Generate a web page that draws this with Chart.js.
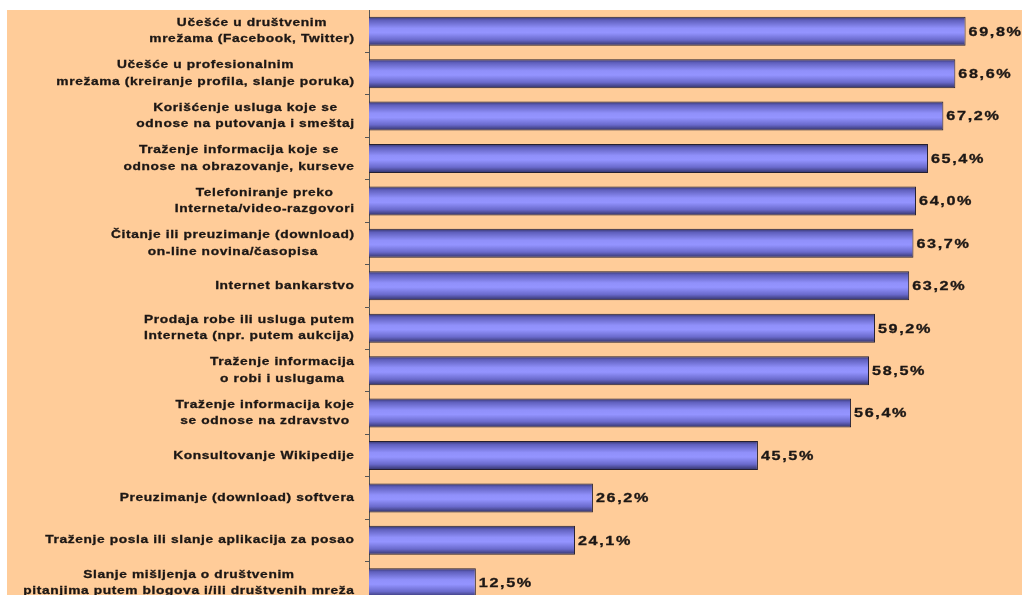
<!DOCTYPE html>
<html>
<head>
<meta charset="utf-8">
<script src="https://cdn.jsdelivr.net/npm/chart.js@4/dist/chart.umd.min.js"></script>
<style>
  html, body { margin: 0; padding: 0; background: #ffffff; overflow: hidden; width: 1022px; height: 595px; }
  #wrap { position: absolute; left: 7px; top: 10px; width: 1015px; height: 594px; background: #ffcc99; }
  canvas { display: block; }
</style>
</head>
<body>
<div id="wrap"><canvas id="c" width="1015" height="594"></canvas></div>
<script>
// Activities (multi-line labels) and share of users, in %
const categories = [
  ["Učešće u društvenim", "mrežama (Facebook, Twitter)"],
  ["Učešće u profesionalnim", "mrežama (kreiranje profila, slanje poruka)"],
  ["Korišćenje usluga koje se", "odnose na putovanja i smeštaj"],
  ["Traženje informacija koje se", "odnose na obrazovanje, kurseve"],
  ["Telefoniranje preko", "Interneta/video-razgovori"],
  ["Čitanje ili preuzimanje (download)", "on-line novina/časopisa"],
  ["Internet bankarstvo"],
  ["Prodaja robe ili usluga putem", "Interneta (npr. putem aukcija)"],
  ["Traženje informacija", "o robi i uslugama"],
  ["Traženje informacija koje", "se odnose na zdravstvo"],
  ["Konsultovanje Wikipedije"],
  ["Preuzimanje (download) softvera"],
  ["Traženje posla ili slanje aplikacija za posao"],
  ["Slanje mišljenja o društvenim", "pitanjima putem blogova i/ili društvenih mreža"]
];
const shares = [69.8, 68.6, 67.2, 65.4, 64.0, 63.7, 63.2, 59.2, 58.5, 56.4, 45.5, 26.2, 24.1, 12.5];

const BAR_FRACTION = 0.684;
const AXIS_WIDTH = 362;
const TEXT_COLOR = '#1c1715';

function barGradient(context) {
  const chart = context.chart;
  const area = chart.chartArea;
  if (!area || context.type !== 'data') return '#8080e8';
  const ys = chart.scales.y;
  const y = ys.getPixelForValue(context.dataIndex);
  const half = (ys.getPixelForValue(1) - ys.getPixelForValue(0)) * BAR_FRACTION / 2;
  const g = chart.ctx.createLinearGradient(0, y - half, 0, y + half);
  g.addColorStop(0.00, '#34346a');
  g.addColorStop(0.12, '#5f5fbc');
  g.addColorStop(0.40, '#9090fa');
  g.addColorStop(0.55, '#9494ff');
  g.addColorStop(0.80, '#6a6acc');
  g.addColorStop(1.00, '#303064');
  return g;
}

// Draw text stretched horizontally with extra letter spacing
function wideText(ctx, text, x, y, sx, spacing) {
  ctx.save();
  ctx.translate(x, y);
  ctx.scale(sx, 1);
  ctx.letterSpacing = spacing + 'px';
  ctx.fillText(text, 0, 0);
  ctx.strokeText(text, 0, 0);
  ctx.restore();
}
function wideWidth(ctx, text, sx, spacing) {
  ctx.save();
  ctx.letterSpacing = spacing + 'px';
  const w = ctx.measureText(text).width - spacing;
  ctx.restore();
  return w * sx;
}

const labelsPlugin = {
  id: 'labelsPlugin',
  afterDraw(chart) {
    const ctx = chart.ctx;
    const ys = chart.scales.y;
    // category labels: centred lines, block right-aligned to the axis
    ctx.save();
    ctx.fillStyle = TEXT_COLOR;
    ctx.strokeStyle = TEXT_COLOR;
    ctx.lineWidth = 0.3;
    ctx.font = 'bold 11px "Liberation Sans", Arial, sans-serif';
    ctx.textBaseline = 'middle';
    ctx.textAlign = 'left';
    const SX = 1.25, LS = 0.5, LH = 16.5;
    const right = AXIS_WIDTH - 15;
    chart.data.labels.forEach((lines, i) => {
      const yc = ys.getPixelForValue(i);
      const widths = lines.map(t => wideWidth(ctx, t, SX, LS));
      const block = Math.max(...widths);
      const cx = right - block / 2;
      lines.forEach((t, k) => {
        const yy = yc + (k - (lines.length - 1) / 2) * LH;
        wideText(ctx, t, cx - widths[k] / 2, yy, SX, LS);
      });
    });
    // value labels at the end of each bar
    ctx.font = 'bold 12px "Liberation Sans", Arial, sans-serif';
    const meta = chart.getDatasetMeta(0);
    meta.data.forEach((bar, i) => {
      const v = chart.data.datasets[0].data[i];
      const txt = v.toFixed(1).replace('.', ',') + '%';
      wideText(ctx, txt, bar.x + 3, bar.y + 1, 1.35, 1.2);
    });
    ctx.restore();
  }
};

new Chart(document.getElementById('c'), {
  type: 'bar',
  data: {
    labels: categories,
    datasets: [{
      data: shares,
      backgroundColor: barGradient,
      borderColor: '#262030',
      borderWidth: 1,
      borderSkipped: 'start',
      barPercentage: BAR_FRACTION,
      categoryPercentage: 1
    }]
  },
  options: {
    indexAxis: 'y',
    responsive: false,
    animation: false,
    layout: { padding: 0 },
    plugins: { legend: { display: false }, tooltip: { enabled: false } },
    scales: {
      x: { display: false, min: 0, max: 76.4 },
      y: {
        position: 'left',
        offset: true,
        afterFit(scale) { scale.width = AXIS_WIDTH; },
        ticks: { display: false },
        grid: { display: true, drawOnChartArea: false, drawTicks: true, tickLength: 4, color: '#555555', lineWidth: 1 },
        border: { display: true, color: '#555555', width: 1 }
      }
    }
  },
  plugins: [labelsPlugin]
});
</script>
</body>
</html>
